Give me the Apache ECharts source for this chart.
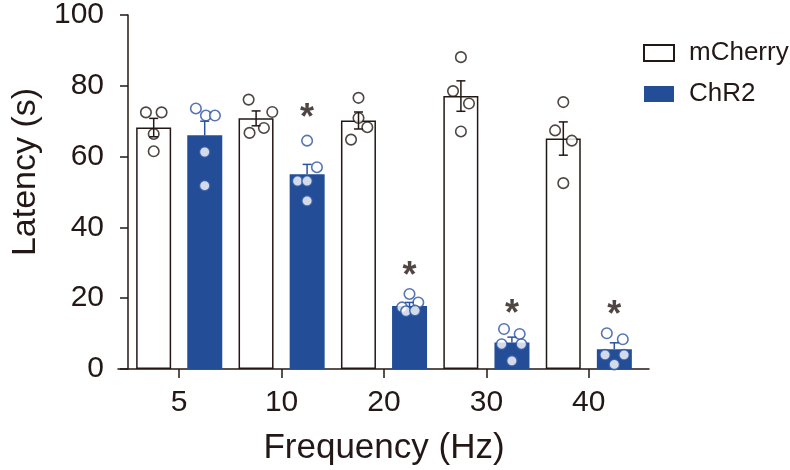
<!DOCTYPE html>
<html>
<head>
<meta charset="utf-8">
<script src="https://cdn.jsdelivr.net/npm/echarts@6/dist/echarts.min.js"></script>
<style>html,body{margin:0;padding:0;background:#fff}#c{width:790px;height:470px}</style>
</head>
<body>
<div id="c"></div>
<script>
// ---- data ----
const categories = ['5', '10', '20', '30', '40'];
const seriesNames = ['mCherry', 'ChR2'];
const mCherryMean = [68.2, 70.8, 70.2, 77.1, 65.1];
const chr2Mean = [66.0, 55.0, 17.8, 7.5, 5.6];
const mCherrySem = [2.6, 2.1, 2.4, 4.3, 4.7];
const chr2Sem = [4.0, 2.8, 1.0, 1.5, 1.8];
const mCherryPoints = [
  [72.5, 72.5, 66.4, 61.5],
  [76.1, 72.6, 66.7, 68.1],
  [76.6, 70.9, 68.3, 64.8],
  [88.1, 78.5, 75.0, 67.1],
  [75.4, 67.4, 64.5, 52.5]
];
const mCherryJitter = [
  [-0.076, 0.077, 0, 0],
  [-0.073, 0.158, -0.064, 0.076],
  [0, 0, 0.086, -0.073],
  [0, -0.077, 0.079, 0],
  [0, -0.08, 0.083, 0]
];
const chr2Points = [
  [73.6, 71.6, 71.6, 61.3, 51.8],
  [64.5, 57.0, 53.1, 53.1, 47.5],
  [21.2, 17.4, 18.8, 16.3, 16.5],
  [11.3, 9.9, 7.0, 7.0, 2.3],
  [10.1, 8.4, 4.0, 4.0, 1.3]
];
const chr2Jitter = [
  [-0.086, 0.012, 0.1, 0, 0],
  [0, 0.096, -0.093, 0, 0],
  [0, -0.073, 0.086, -0.034, 0.054],
  [-0.077, 0.076, -0.1, 0.093, 0],
  [-0.073, 0.083, -0.09, 0.096, 0]
];
// significance stars above ChR2 bars (null = none)
const starY = [null, 72.9, 28.2, 17.6, 17.1];
const yTicks = [0, 20, 40, 60, 80, 100];

// ---- styling ----
const INK = '#231815';
const BLUE = '#234e97';
const PT_BLUE = '#2a53a0';
const FONT = 'Liberation Sans, Arial, sans-serif';
const BAR_OFF = 0.249; // bar centre offset from category centre, in category units

function pointData(points, jitter, side) {
  const out = [];
  points.forEach((arr, i) => arr.forEach((v, k) => {
    out.push([i + 0.5 + side * BAR_OFF + jitter[i][k], v]);
  }));
  return out;
}
function errData(mean, sem, side) {
  return mean.map((m, i) => [i + 0.5 + side * BAR_OFF, m, sem[i]]);
}
function errRender(color, both) {
  return function (params, api) {
    const x = api.value(0), m = api.value(1), s = api.value(2);
    const top = api.coord([x, m + s]);
    const bot = api.coord([x, both ? m - s : m]);
    const hw = 4.5;
    const children = [
      { type: 'line', shape: { x1: top[0], y1: top[1], x2: bot[0], y2: bot[1] } },
      { type: 'line', shape: { x1: top[0] - hw, y1: top[1], x2: top[0] + hw, y2: top[1] } }
    ];
    if (both) children.push({ type: 'line', shape: { x1: bot[0] - hw, y1: bot[1], x2: bot[0] + hw, y2: bot[1] } });
    children.forEach(c => c.style = { stroke: color, lineWidth: 1.5 });
    return { type: 'group', children: children };
  };
}

const chart = echarts.init(document.getElementById('c'), null, { renderer: 'canvas' });
chart.setOption({
  animation: false,
  textStyle: { fontFamily: FONT, color: INK },
  grid: [
    { left: 128, right: 150, top: 15, bottom: 101, containLabel: false, outerBoundsMode: 'none' },
    { left: 118, right: 141, top: 15, bottom: 101, containLabel: false, outerBoundsMode: 'none' }
  ],
  legend: {
    data: seriesNames,
    orient: 'vertical',
    left: 643, top: 40, padding: 0,
    itemWidth: 30, itemHeight: 16, itemGap: 15,
    icon: 'rect',
    textStyle: { fontSize: 26, color: INK, fontFamily: FONT, padding: [0, 0, 0, 10] }
  },
  xAxis: [
    {
      type: 'category', gridIndex: 0, data: categories,
      axisLine: { show: false },
      axisTick: { show: true, alignWithLabel: true, length: 9, lineStyle: { color: INK, width: 1.5 } },
      axisLabel: { fontSize: 30, color: INK, margin: 19, fontFamily: FONT },
      name: 'Frequency (Hz)', nameLocation: 'middle', nameGap: 62,
      nameTextStyle: { fontSize: 35, color: INK, fontFamily: FONT }
    },
    { type: 'value', gridIndex: 0, min: 0, max: 5, show: false },
    {
      type: 'value', gridIndex: 1, min: 0, max: 1,
      axisLine: { show: true, onZero: false, lineStyle: { color: INK, width: 1.5 } },
      axisTick: { show: false }, axisLabel: { show: false }, splitLine: { show: false }
    }
  ],
  yAxis: [
    {
      type: 'value', gridIndex: 0, min: 0, max: 100, interval: 20, offset: 10,
      axisLine: { show: true, lineStyle: { color: INK, width: 1.5 } },
      axisTick: { show: true, length: 8, lineStyle: { color: INK, width: 1.5 } },
      axisLabel: { fontSize: 30, color: INK, margin: 14, fontFamily: FONT,
        formatter: v => yTicks.indexOf(v) >= 0 ? String(v) : '' },
      splitLine: { show: false },
      name: 'Latency (s)', nameLocation: 'middle', nameGap: 73, nameRotate: 90,
      nameTextStyle: { fontSize: 34, color: INK, fontFamily: FONT, padding: [0, 0, 0, 40] }
    },
    { type: 'value', gridIndex: 1, min: 0, max: 100, show: false }
  ],
  series: [
    {
      name: 'mCherry', type: 'bar', xAxisIndex: 0, yAxisIndex: 0,
      data: mCherryMean, barWidth: 35, barGap: '46%',
      itemStyle: { color: '#ffffff', borderColor: INK, borderWidth: 1.5 }, z: 2
    },
    {
      name: 'ChR2', type: 'bar', xAxisIndex: 0, yAxisIndex: 0,
      data: chr2Mean, barWidth: 35, barGap: '46%',
      itemStyle: { color: BLUE }, z: 2
    },
    {
      type: 'scatter', xAxisIndex: 1, yAxisIndex: 0, symbol: 'circle', symbolSize: 10.5,
      data: pointData(mCherryPoints, mCherryJitter, -1),
      itemStyle: { color: '#ffffff', borderColor: INK, borderWidth: 1.6 }, z: 3
    },
    {
      type: 'scatter', xAxisIndex: 1, yAxisIndex: 0, symbol: 'circle', symbolSize: 10.5,
      data: pointData(chr2Points, chr2Jitter, 1),
      itemStyle: { color: '#ffffff', borderColor: PT_BLUE, borderWidth: 1.6 }, z: 3
    },
    {
      type: 'custom', xAxisIndex: 1, yAxisIndex: 0, z: 4,
      data: errData(mCherryMean, mCherrySem, -1), renderItem: errRender(INK, true)
    },
    {
      type: 'custom', xAxisIndex: 1, yAxisIndex: 0, z: 4,
      data: errData(chr2Mean, chr2Sem, 1), renderItem: errRender(PT_BLUE, false)
    },
    {
      type: 'scatter', xAxisIndex: 1, yAxisIndex: 0, symbolSize: 1, z: 5,
      data: starY.map((v, i) => v == null ? null : [i + 0.5 + BAR_OFF, v]).filter(d => d),
      itemStyle: { color: 'rgba(0,0,0,0)' },
      label: { show: true, position: 'inside', formatter: '*', fontSize: 36, fontWeight: 'bold',
        color: INK, fontFamily: FONT, offset: [0, 8] }
    }
  ]
});
</script>
</body>
</html>
